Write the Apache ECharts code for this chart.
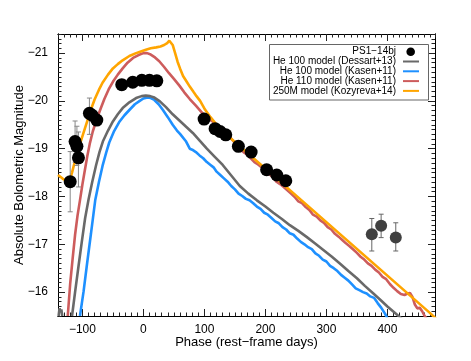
<!DOCTYPE html>
<html><head><meta charset="utf-8">
<script src="https://cdn.jsdelivr.net/npm/echarts@6/dist/echarts.min.js"></script>
<style>html,body{margin:0;padding:0;background:#fff}#c{width:471px;height:361px}</style>
</head><body><div id="c"></div>
<script>
// ---- axis ranges / ticks ----
const xMin = -140, xMax = 478;
const yMin = -21.4, yMax = -15.5;
const xMajorTicks = [-100, 0, 100, 200, 300, 400];
const yMajorTicks = [-21, -20, -19, -18, -17, -16];

// ---- PS1-14bj observations (phase, magnitude) ----
const ps1Phase = [-120, -112, -109, -106.5, -88.5, -84, -76.4, -35.5, -17.5, -2.6, 9.9, 22, 99.5, 117.5, 125.7, 135, 155.7, 176.6, 202, 218.6, 233.4];
const ps1Mag   = [-18.31, -19.15, -19.05, -18.81, -19.74, -19.7, -19.6, -20.34, -20.39, -20.43, -20.43, -20.42, -19.62, -19.42, -19.36, -19.29, -19.05, -18.93, -18.56, -18.45, -18.33];
// error bars of the early points: phase, bright end, faint end
const ps1ErrPhase = [-120, -112, -109, -106.5, -88.5];
const ps1ErrTop   = [-18.94, -19.58, -19.47, -19.35, -20.06];
const ps1ErrBot   = [-17.68, -18.72, -18.65, -18.2, -19.3];
// late-time points
const latePhase = [374.4, 389.7, 413.7];
const lateMag   = [-17.21, -17.39, -17.14];
const lateTop   = [-17.54, -17.63, -17.45];
const lateBot   = [-16.86, -17.14, -16.86];

// ---- model light curves [phase, magnitude] ----
const dessartBlip = [[-139, -15.5], [-137.5, -15.66], [-136, -15.58], [-134.5, -15.64], [-133, -15.5]];
const dessart100 = [[-117,-15.5],[-112,-16.0],[-106.5,-16.53],[-101,-17.05],[-95.5,-17.55],[-90,-17.93],[-84,-18.3],[-77.5,-18.66],[-72,-18.93],[-66.5,-19.15],[-58,-19.38],[-50,-19.57],[-42,-19.72],[-34,-19.85],[-23,-19.97],[-12,-20.06],[-3,-20.1],[4,-20.11],[11,-20.1],[18,-20.07],[27,-19.99],[37,-19.87],[48,-19.72],[59,-19.59],[70,-19.46],[81,-19.33],[93,-19.16],[104,-19.0],[117,-18.83],[130,-18.66],[144,-18.44],[158,-18.22],[172,-18.06],[186,-17.92],[200,-17.79],[213,-17.66],[227,-17.53],[240,-17.4],[254,-17.28],[268,-17.15],[281,-17.02],[295,-16.88],[309,-16.74],[322,-16.6],[336,-16.44],[350,-16.29],[363,-16.13],[377,-15.97],[390,-15.82],[400,-15.7],[412,-15.57],[424,-15.44]];
const kasen100 = [[-104,-15.5],[-98,-16.02],[-93,-16.53],[-86,-17.22],[-79,-17.92],[-73,-18.3],[-67,-18.64],[-61,-18.92],[-56,-19.13],[-48,-19.37],[-39,-19.57],[-31,-19.7],[-23,-19.81],[-14,-19.93],[-6,-20.0],[0,-20.05],[7,-20.07],[12,-20.06],[18,-20.02],[25,-19.93],[32,-19.81],[40,-19.66],[48,-19.5],[55,-19.38],[60,-19.31],[63,-19.28],[70,-19.15],[76,-19.0],[80,-18.98],[86,-18.93],[92,-18.86],[98,-18.8],[104,-18.72],[110,-18.66],[115,-18.61],[120,-18.52],[126,-18.45],[132,-18.38],[138,-18.31],[144,-18.22],[150,-18.15],[156,-18.06],[162,-18.01],[168,-17.95],[174,-17.92],[180,-17.86],[186,-17.79],[192,-17.74],[198,-17.66],[204,-17.62],[210,-17.55],[216,-17.48],[222,-17.44],[228,-17.36],[234,-17.31],[240,-17.23],[246,-17.2],[252,-17.12],[258,-17.05],[264,-17.0],[270,-16.94],[276,-16.9],[282,-16.81],[288,-16.76],[294,-16.68],[300,-16.64],[306,-16.55],[312,-16.5],[318,-16.44],[324,-16.36],[330,-16.3],[336,-16.24],[342,-16.16],[348,-16.08],[354,-16.04],[360,-16.0],[366,-15.97],[372,-15.91],[378,-15.88],[384,-15.77],[390,-15.67],[396,-15.55],[400,-15.45]];
const kasen110 = [[-124,-15.5],[-120,-16.18],[-116,-16.7],[-112,-17.2],[-108,-17.6],[-104,-17.92],[-100,-18.25],[-96,-18.55],[-92,-18.84],[-88,-19.1],[-83,-19.36],[-77,-19.6],[-70,-19.84],[-64,-20.04],[-57,-20.24],[-50,-20.4],[-42,-20.55],[-34,-20.68],[-26,-20.8],[-17,-20.9],[-8,-20.96],[0,-21.0],[6,-21.0],[12,-20.97],[19,-20.91],[26,-20.83],[34,-20.71],[42,-20.58],[50,-20.46],[59,-20.32],[67,-20.18],[76,-20.04],[86,-19.9],[97,-19.74],[108,-19.62],[119,-19.52],[130,-19.4],[140,-19.27],[150,-19.12],[158,-18.99],[164,-18.93],[170,-18.88],[176,-18.8],[182,-18.72],[188,-18.67],[194,-18.61],[200,-18.53],[206,-18.47],[212,-18.41],[218,-18.31],[224,-18.26],[230,-18.2],[236,-18.13],[242,-18.06],[248,-17.99],[254,-17.9],[260,-17.86],[266,-17.78],[272,-17.72],[278,-17.62],[284,-17.58],[290,-17.5],[296,-17.45],[302,-17.36],[308,-17.31],[314,-17.22],[320,-17.16],[326,-17.09],[332,-17.02],[338,-16.96],[344,-16.89],[350,-16.82],[356,-16.74],[362,-16.68],[368,-16.6],[374,-16.55],[380,-16.47],[386,-16.41],[392,-16.32],[398,-16.27],[404,-16.17],[410,-16.09],[416,-16.02],[422,-15.96],[428,-15.94],[433,-15.97],[437,-15.98],[441,-15.9],[445,-15.74],[449,-15.66],[453,-15.67],[457,-15.6],[461,-15.5],[464,-15.45]];
const kozyreva250 = [[-140,-18.45],[-133,-18.38],[-126,-18.32],[-121,-18.34],[-117,-18.5],[-113,-18.7],[-108,-18.92],[-102,-19.18],[-96,-19.42],[-91,-19.62],[-86,-19.82],[-80,-20.03],[-73,-20.23],[-67,-20.38],[-58,-20.55],[-50,-20.68],[-42,-20.77],[-34,-20.85],[-23,-20.94],[-12,-21.0],[-3,-21.04],[4,-21.07],[12,-21.1],[21,-21.12],[28,-21.14],[34,-21.17],[39,-21.21],[42.5,-21.26],[45,-21.24],[48,-21.17],[52,-21.0],[56,-20.82],[60,-20.68],[65,-20.52],[71,-20.4],[76,-20.3],[82,-20.19],[87,-20.1],[93,-20.0],[101,-19.82],[110,-19.66],[120,-19.5],[131,-19.36],[142,-19.23],[158,-19.05],[470,-15.56],[480,-15.44]];

// ---- legend labels ----
const legendLabels = ['PS1\u221214bj', 'He 100 model (Dessart+13)', 'He 100 model (Kasen+11)', 'He 110 model (Kasen+11)', '250M model (Kozyreva+14)'];
const colors = { obs: '#000000', late: '#404040', dessart: '#696969', kasen100: '#1E90FF', kasen110: '#CD5C5C', kozyreva: '#FFA500' };

const FONT = '"Liberation Sans", Arial, Helvetica, sans-serif';
const minusFmt = v => (v < 0 ? '\u2212' : '') + Math.abs(Math.round(v));

function axisCommon(extra) {
  return Object.assign({
    type: 'value', splitLine: { show: false },
    axisLine: { show: true, onZero: false, lineStyle: { color: '#000', width: 1 } },
  }, extra);
}
const tickStyle = { color: '#222', width: 1 };

const xAxes = [
  axisCommon({ position: 'bottom', min: xMin, max: xMax,
    axisTick: { show: true, inside: true, length: 7, customValues: xMajorTicks, lineStyle: tickStyle },
    axisLabel: { show: true, customValues: xMajorTicks, formatter: minusFmt, fontSize: 12, color: '#000', fontFamily: FONT, margin: 8 },
    name: 'Phase (rest\u2212frame days)', nameLocation: 'middle', nameGap: 20, nameMoveOverlap: false,
    nameTextStyle: { fontSize: 13, color: '#000', fontFamily: FONT } }),
  axisCommon({ position: 'bottom', min: xMin, max: xMax, interval: 10,
    axisTick: { show: true, inside: true, length: 3.5, lineStyle: tickStyle }, axisLabel: { show: false } }),
  axisCommon({ position: 'top', min: xMin, max: xMax,
    axisTick: { show: true, inside: true, length: 7, customValues: xMajorTicks, lineStyle: tickStyle },
    axisLabel: { show: false, customValues: xMajorTicks } }),
  axisCommon({ position: 'top', min: xMin, max: xMax, interval: 10,
    axisTick: { show: true, inside: true, length: 3.5, lineStyle: tickStyle }, axisLabel: { show: false } })
];
const yAxes = [
  axisCommon({ position: 'left', min: yMin, max: yMax, inverse: true,
    axisTick: { show: true, inside: true, length: 7, customValues: yMajorTicks, lineStyle: tickStyle },
    axisLabel: { show: true, customValues: yMajorTicks, formatter: minusFmt, fontSize: 12, color: '#000', fontFamily: FONT, margin: 10 },
    name: 'Absolute Bolometric Magnitude', nameLocation: 'middle', nameRotate: 90, nameGap: 32, nameMoveOverlap: false,
    nameTextStyle: { fontSize: 13, color: '#000', fontFamily: FONT } }),
  axisCommon({ position: 'left', min: yMin, max: yMax, inverse: true, interval: 0.1,
    axisTick: { show: true, inside: true, length: 3.5, lineStyle: tickStyle }, axisLabel: { show: false } }),
  axisCommon({ position: 'right', min: yMin, max: yMax, inverse: true,
    axisTick: { show: true, inside: true, length: 7, customValues: yMajorTicks, lineStyle: tickStyle },
    axisLabel: { show: false, customValues: yMajorTicks } }),
  axisCommon({ position: 'right', min: yMin, max: yMax, inverse: true, interval: 0.1,
    axisTick: { show: true, inside: true, length: 3.5, lineStyle: tickStyle }, axisLabel: { show: false } })
];

function errBar(color) {
  return function (params, api) {
    const x = api.value(0);
    const p1 = api.coord([x, api.value(1)]);
    const p2 = api.coord([x, api.value(2)]);
    const w = 2.5;
    const st = { stroke: color, lineWidth: 1 };
    return { type: 'group', children: [
      { type: 'line', shape: { x1: p1[0], y1: p1[1], x2: p2[0], y2: p2[1] }, style: st },
      { type: 'line', shape: { x1: p1[0] - w, y1: p1[1], x2: p1[0] + w, y2: p1[1] }, style: st },
      { type: 'line', shape: { x1: p2[0] - w, y1: p2[1], x2: p2[0] + w, y2: p2[1] }, style: st }
    ] };
  };
}

function lineSeries(name, data, color, z) {
  return { name, type: 'line', data, showSymbol: false, symbol: 'none', smooth: false, clip: true,
    lineStyle: { color, width: 2.6 }, z, silent: true };
}

const series = [
  lineSeries(legendLabels[2], kasen100, colors.kasen100, 2),
  lineSeries(legendLabels[1], dessart100, colors.dessart, 2),
  lineSeries(legendLabels[1] + ' blip', dessartBlip, colors.dessart, 2),
  lineSeries(legendLabels[3], kasen110, colors.kasen110, 3),
  lineSeries(legendLabels[4], kozyreva250, colors.kozyreva, 4),
  { type: 'custom', name: 'err', renderItem: errBar('#888'), encode: { x: 0, y: [1, 2] },
    data: ps1ErrPhase.map((p, i) => [p, ps1ErrTop[i], ps1ErrBot[i]]), z: 5, clip: true },
  { type: 'custom', name: 'errLate', renderItem: errBar('#666'), encode: { x: 0, y: [1, 2] },
    data: latePhase.map((p, i) => [p, lateTop[i], lateBot[i]]), z: 5, clip: true },
  { type: 'scatter', name: legendLabels[0], data: ps1Phase.map((p, i) => [p, ps1Mag[i]]),
    symbol: 'circle', symbolSize: 13, itemStyle: { color: colors.obs, opacity: 1 }, z: 6 },
  { type: 'scatter', name: 'late', data: latePhase.map((p, i) => [p, lateMag[i]]),
    symbol: 'circle', symbolSize: 12, itemStyle: { color: colors.late, opacity: 1 }, z: 6 }
];

// legend drawn as graphic (text right-aligned, symbol on the right)
const lgX = 396, lgY0 = 51.7, lgDy = 9.8;
const legendColors = [colors.obs, colors.dessart, colors.kasen100, colors.kasen110, colors.kozyreva];
const graphics = [{ type: 'rect', shape: { x: 269.5, y: 44.5, width: 159, height: 55.5 },
  style: { fill: '#fff', stroke: '#666', lineWidth: 1 }, z: 10 }];
legendLabels.forEach((t, i) => {
  const y = lgY0 + i * lgDy;
  graphics.push({ type: 'text', x: lgX, y, z: 11,
    style: { text: t, align: 'right', verticalAlign: 'middle', fontSize: 10, fontFamily: FONT, fill: '#000' } });
  if (i === 0) {
    graphics.push({ type: 'circle', shape: { cx: 410.7, cy: y, r: 4.3 }, style: { fill: legendColors[i] }, z: 11 });
  } else {
    graphics.push({ type: 'line', shape: { x1: 403, y1: y, x2: 419, y2: y }, style: { stroke: legendColors[i], lineWidth: 2 }, z: 11 });
  }
});

const chart = echarts.init(document.getElementById('c'), null, { renderer: 'canvas' });
chart.setOption({
  animation: false,
  backgroundColor: '#fff',
  grid: { left: 58, top: 34, right: 36, bottom: 45, containLabel: false, outerBoundsMode: 'none' },
  xAxis: xAxes,
  yAxis: yAxes,
  series,
  graphic: graphics
});
</script>
</body></html>
